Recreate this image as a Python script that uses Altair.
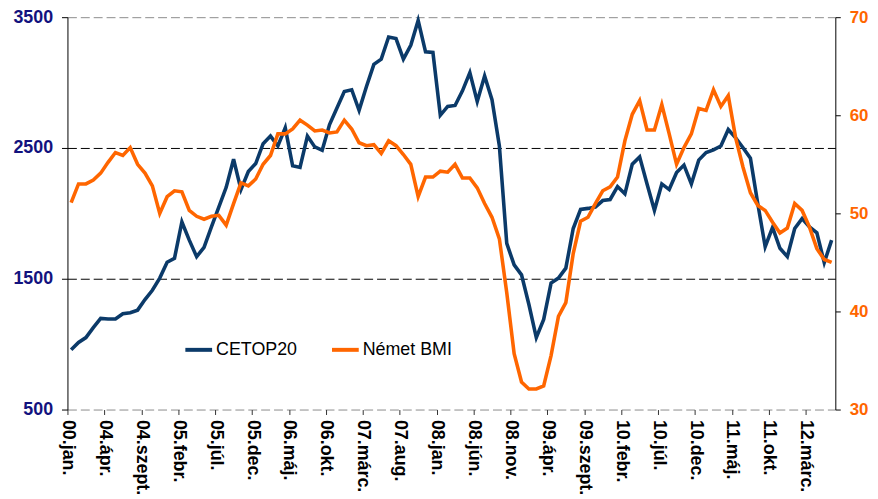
import json
import altair as alt
import pandas as pd

tick_labels = ["00.jan.", "04.ápr.", "04.szept.", "05.febr.", "05.júl.", "05.dec.",
               "06.máj.", "06.okt.", "07.márc.", "07.aug.", "08.jan.", "08.jún.",
               "08.nov.", "09.ápr.", "09.szept.", "10.febr.", "10.júl.", "10.dec.",
               "11.máj.", "11.okt.", "12.márc."]

cetop20 = [957, 1013, 1050, 1126, 1197, 1192, 1192, 1232, 1240, 1260,
           1341, 1412, 1505, 1626, 1657, 1934, 1795, 1669, 1740, 1896,
           2048, 2199, 2414, 2182, 2320, 2381, 2533, 2591, 2515, 2654,
           2364, 2351, 2591, 2508, 2482, 2679, 2806, 2932, 2945, 2788,
           2970, 3139, 3179, 3348, 3336, 3179, 3285, 3475, 3235, 3230,
           2750, 2818, 2825, 2937, 3076, 2856, 3051, 2869, 2515, 1770,
           1606, 1530, 1303, 1050, 1189, 1467, 1505, 1581, 1884, 2030,
           2038, 2048, 2098, 2106, 2205, 2149, 2376, 2432, 2225, 2023,
           2225, 2182, 2313, 2369, 2225, 2407, 2465, 2485, 2515, 2641,
           2578, 2502, 2422, 2073, 1745, 1892, 1733, 1669, 1884, 1960,
           1896, 1851, 1623, 1795]

nemet_bmi = [51.1, 53.0, 53.0, 53.4, 54.1, 55.2, 56.2, 55.9, 56.7, 55.0,
             54.1, 52.8, 50.0, 51.7, 52.3, 52.2, 50.3, 49.7, 49.4, 49.7,
             49.8, 48.8, 51.0, 53.1, 52.8, 53.5, 55.0, 55.9, 58.1, 58.1,
             58.6, 59.5, 59.0, 58.4, 58.5, 58.2, 58.3, 59.5, 58.6, 57.2,
             56.9, 57.0, 56.1, 57.4, 56.9, 56.0, 55.0, 51.7, 53.7, 53.7,
             54.3, 54.2, 55.0, 53.6, 53.6, 52.6, 51.0, 49.6, 47.4, 41.9,
             35.7, 32.8, 32.1, 32.1, 32.4, 35.5, 39.5, 40.9, 45.9, 49.2,
             49.6, 51.0, 52.3, 52.7, 53.7, 57.4, 60.1, 61.5, 58.5, 58.5,
             61.1, 58.1, 55.0, 56.7, 58.1, 60.7, 60.5, 62.6, 60.9, 62.0,
             57.7, 54.7, 52.1, 50.8, 50.3, 49.1, 48.0, 48.5, 51.0, 50.3,
             48.6, 46.4, 45.3, 45.0]

series_names = ["CETOP20", "Német BMI"]
series_colors = ["#0B3A69", "#FF6600"]
left_ticks = [500, 1500, 2500, 3500]
right_ticks = [30, 40, 50, 60, 70]

n = len(cetop20)
df = pd.DataFrame({"pos": [i + 0.5 for i in range(n)],
                   "cetop": cetop20, "bmi": nemet_bmi})

FONT = "Liberation Sans, Arial, sans-serif"
label_expr = json.dumps(tick_labels, ensure_ascii=False) + "[round(datum.value / 5)]"

x = alt.X("pos:Q",
          scale=alt.Scale(domain=[0, n], nice=False, zero=False),
          axis=alt.Axis(values=list(range(0, 5 * len(tick_labels), 5)),
                        labelExpr=label_expr, labelAngle=90, labelFont=FONT,
                        labelFontSize=18, labelFontWeight="bold", labelColor="black",
                        labelPadding=5, labelFlush=False, labelOverlap=False,
                        tickSize=5, tickColor="#333333", domain=False, grid=False,
                        title=None))

color_scale = alt.Scale(domain=series_names, range=series_colors)
legend = alt.Legend(orient="none", legendX=117, legendY=320, direction="horizontal",
                    symbolType="stroke", symbolSize=729, symbolStrokeWidth=4,
                    labelFont=FONT, labelFontSize=18, labelColor="black",
                    labelOffset=2, columnPadding=27, padding=0)

blue = alt.Chart(df).transform_calculate(series="'CETOP20'").mark_line(
    strokeWidth=3.6).encode(
    x=x,
    y=alt.Y("cetop:Q",
            scale=alt.Scale(domain=[500, 3500], nice=False, zero=False),
            axis=alt.Axis(orient="left", values=left_ticks, format="d", grid=True,
                          gridDash=[9, 4], gridWidth=1,
                          gridColor={"condition": {"test": "datum.value == 500 || datum.value == 3500",
                                                   "value": "#8c8c8c"},
                                     "value": "#000000"},
                          labelFont=FONT, labelFontSize=18, labelFontWeight="bold",
                          labelColor="#12127E", labelPadding=9, tickSize=6,
                          tickColor="#000000", domainColor="#000000", title=None)),
    color=alt.Color("series:N", scale=color_scale, legend=legend, title=None),
)

orange = alt.Chart(df).transform_calculate(series="'Német BMI'").mark_line(
    strokeWidth=3.6).encode(
    x=x,
    y=alt.Y("bmi:Q",
            scale=alt.Scale(domain=[30, 70], nice=False, zero=False),
            axis=alt.Axis(orient="right", values=right_ticks, format="d", grid=False,
                          labelFont=FONT, labelFontSize=17, labelFontWeight="bold",
                          labelColor="#FF6600", labelPadding=9, tickSize=5,
                          tickColor="#000000", domainColor="#000000", title=None)),
    color=alt.Color("series:N", scale=color_scale, legend=legend, title=None),
)

chart = alt.layer(blue, orange).resolve_scale(y="independent").properties(
    width=775, height=396,
    autosize=alt.AutoSizeParams(type="none"),
    padding={"left": 60, "top": 7, "right": 35, "bottom": 85},
).configure_view(strokeWidth=0)

chart.save("out.html", embed_options={"renderer": "svg", "actions": False})
